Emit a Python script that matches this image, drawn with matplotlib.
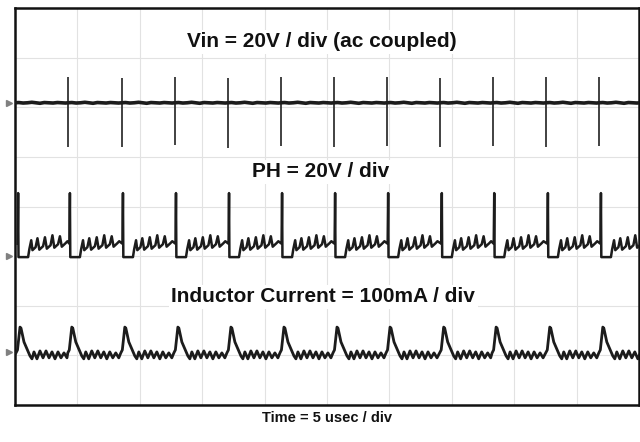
import matplotlib
matplotlib.use("Agg")
import matplotlib.pyplot as plt
import numpy as np

# ================= Scope settings (divisions) =================
n_xdiv = 10
n_ydiv = 8

# switching events (x in divisions)
vin_spike_t = [0.0, 0.85, 1.71, 2.56, 3.41, 4.26, 5.11, 5.96, 6.81, 7.66, 8.51, 9.36]
vin_spike_top = [6.64, 6.61, 6.59, 6.61, 6.59, 6.61, 6.60, 6.61, 6.59, 6.61, 6.60, 6.61]
vin_spike_bot = [5.28, 5.20, 5.20, 5.24, 5.18, 5.22, 5.20, 5.21, 5.20, 5.22, 5.20, 5.21]
ph_spike_t = [0.05, 0.88, 1.73, 2.58, 3.43, 4.28, 5.13, 5.98, 6.84, 7.68, 8.54, 9.39]
il_peak_t = [0.08, 0.91, 1.76, 2.61, 3.46, 4.31, 5.16, 6.01, 6.87, 7.71, 8.57, 9.42]

# one switching cycle of each trace (offset from event, level)
vin_cyc_dt = [0.0, 0.06, 0.13, 0.2, 0.27, 0.33, 0.40, 0.47, 0.54, 0.61, 0.68, 0.75, 0.81]
vin_cyc_y = [6.09, 6.095, 6.085, 6.09, 6.10, 6.09, 6.08, 6.095, 6.09, 6.085, 6.095, 6.09, 6.085]

ph_cyc_dt = [-0.008, 0.0, 0.006, 0.16, 0.18, 0.21, 0.23, 0.28, 0.31, 0.34, 0.40,
             0.43, 0.46, 0.52, 0.55, 0.58, 0.64, 0.67, 0.70, 0.76, 0.79]
ph_cyc_y = [3.25, 4.27, 2.98, 2.98, 3.14, 3.32, 3.12, 3.18, 3.36, 3.13, 3.20,
            3.38, 3.15, 3.22, 3.42, 3.17, 3.24, 3.40, 3.19, 3.26, 3.30]

il_cyc_dt = [-0.064, -0.04, 0.0, 0.016, 0.064, 0.16, 0.192, 0.224, 0.272, 0.32,
             0.369, 0.417, 0.465, 0.513, 0.561, 0.609, 0.657, 0.705, 0.753]
il_cyc_y = [1.05, 1.11, 1.57, 1.55, 1.27, 0.99, 0.93, 1.07, 0.93, 1.09,
            0.95, 1.09, 0.95, 1.07, 0.93, 1.07, 0.95, 1.05, 0.95]

# channel ground markers (y in divisions)
gnd_levels = [6.09, 3.0, 1.07]

labels = ["Vin = 20V / div (ac coupled)", "PH = 20V / div", "Inductor Current = 100mA / div"]
label_pos = [(4.92, 7.32), (4.89, 4.70), (4.94, 2.18)]
xlabel = "Time = 5 usec / div"


def build(events, dts, ys):
    xs, vs = [], []
    for t in events:
        for d, v in zip(dts, ys):
            xs.append(t + d)
            vs.append(v)
    return np.array(xs), np.array(vs)


vin_x, vin_y = build(vin_spike_t, vin_cyc_dt, vin_cyc_y)
ph_x, ph_y = build(ph_spike_t, ph_cyc_dt, ph_cyc_y)
il_x, il_y = build(il_peak_t, il_cyc_dt, il_cyc_y)

# ================= Display =================
fig = plt.figure(figsize=(6.4, 4.42), dpi=100)
ax = fig.add_axes([15 / 640, 37 / 442, 624 / 640, 397 / 442])
ax.set_xlim(0, n_xdiv)
ax.set_ylim(0, n_ydiv)

for i in range(1, n_xdiv):
    ax.axvline(i, color="#e2e2e2", lw=0.8, zorder=0)
for i in range(1, n_ydiv):
    ax.axhline(i, color="#e2e2e2", lw=0.8, zorder=0)

trace = "#1c1c1c"
ax.vlines(vin_spike_t, vin_spike_bot, vin_spike_top, color="#333333", lw=1.3, zorder=2)
ax.plot(vin_x, vin_y, color=trace, lw=2.6, zorder=3)
ax.plot(ph_x, ph_y, color=trace, lw=1.8, zorder=3)
ax.plot(il_x, il_y, color=trace, lw=2.0, zorder=3)

ax.plot([-0.1] * len(gnd_levels), gnd_levels, ">", color="#808080", ms=4,
        clip_on=False, zorder=4)

for txt, (x, y) in zip(labels, label_pos):
    ax.text(x, y, txt, ha="center", va="center", fontsize=15, fontweight="bold",
            family="Liberation Sans", color="#111111",
            bbox=dict(facecolor="white", edgecolor="none", pad=2), zorder=5)

ax.set_xticks([])
ax.set_yticks([])
for s in ax.spines.values():
    s.set_linewidth(1.8)
    s.set_color("#111111")

fig.text(327 / 640, 1 - 418 / 442, xlabel, ha="center", va="center", fontsize=10.5,
         fontweight="bold", family="Liberation Sans", color="#111111")

fig.savefig("out.png", dpi=100)
